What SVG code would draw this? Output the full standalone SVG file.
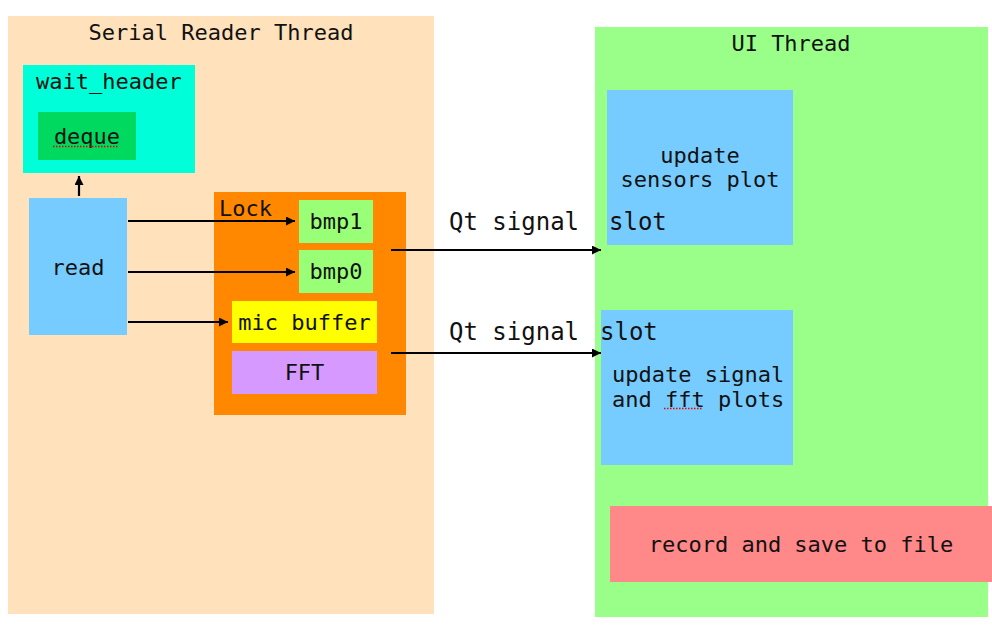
<svg xmlns="http://www.w3.org/2000/svg" width="992" height="634" viewBox="0 0 992 634">
<defs>
<style>
text{font-family:"DejaVu Sans Mono","Liberation Mono",monospace;font-size:22px;fill:#111}
.c{text-anchor:middle}
.b{font-size:24px}
.ln{stroke:#000;stroke-width:2.2;fill:none}
.sp{stroke:#e00;stroke-width:1.5;stroke-dasharray:1.5 1.5;fill:none}
</style>
<marker id="ah" viewBox="0 0 10 10" refX="10" refY="5" markerWidth="10" markerHeight="9" markerUnits="userSpaceOnUse" orient="auto">
<path d="M0,0 L10,5 L0,10 z" fill="#000"/>
</marker>
</defs>
<rect width="992" height="634" fill="#fff"/>
<g id="serial-reader-thread">
<rect x="8" y="16" width="426" height="598" fill="#FFE1BB"/>
<text class="c" x="221" y="40">Serial Reader Thread</text>
</g>
<g id="ui-thread">
<rect x="595" y="27" width="393" height="590" fill="#99FF88"/>
<text class="c" x="791" y="51">UI Thread</text>
</g>
<g id="wait_header">
<rect x="23" y="65" width="172" height="108" fill="#00FFD8"/>
<text x="36" y="89">wait_header</text>
</g>
<g id="deque">
<rect x="38" y="112" width="98" height="48" fill="#00D960"/>
<text class="c" x="87" y="144">deque</text>
<path class="sp" d="M53 146.5H119"/>
</g>
<g id="read">
<rect x="29" y="198" width="98" height="137" fill="#77CCFF"/>
<text class="c" x="78" y="275">read</text>
</g>
<g id="lock">
<rect x="214" y="192" width="192" height="223" fill="#FF8800"/>
<text x="219" y="216">Lock</text>
</g>
<g id="bmp1">
<rect x="299" y="200" width="74" height="43" fill="#99FF77"/>
<text class="c" x="336" y="229">bmp1</text>
</g>
<g id="bmp0">
<rect x="299" y="250" width="74" height="43" fill="#99FF77"/>
<text class="c" x="336" y="279">bmp0</text>
</g>
<g id="mic-buffer">
<rect x="232" y="301" width="145" height="42" fill="#FFFF00"/>
<text class="c" x="304.5" y="330">mic buffer</text>
</g>
<g id="fft">
<rect x="232" y="351" width="145" height="43" fill="#D699FF"/>
<text class="c" x="304.5" y="380">FFT</text>
</g>
<g id="update-sensors-plot">
<rect x="607" y="90" width="186" height="155" fill="#77CCFF"/>
<text class="c" x="700" y="163">update</text>
<text class="c" x="700" y="187">sensors plot</text>
<text class="b" x="609" y="230">slot</text>
</g>
<g id="update-signal-fft-plots">
<rect x="601" y="310" width="192" height="155" fill="#77CCFF"/>
<text class="b" x="600" y="340">slot</text>
<text x="612" y="382">update signal</text>
<text x="612" y="407">and fft plots</text>
<path class="sp" d="M664 408.5H702"/>
</g>
<g id="record-save">
<rect x="610" y="506" width="382" height="76" fill="#FF8888"/>
<text class="c" x="801" y="552">record and save to file</text>
</g>
<g id="connectors">
<path class="ln" d="M79 196V176" marker-end="url(#ah)"/>
<path class="ln" d="M128 221H295" marker-end="url(#ah)"/>
<path class="ln" d="M128 272H295" marker-end="url(#ah)"/>
<path class="ln" d="M128 322H228" marker-end="url(#ah)"/>
<path class="ln" d="M391 250H601" marker-end="url(#ah)"/>
<path class="ln" d="M391 353H601" marker-end="url(#ah)"/>
<text class="b" x="449" y="230">Qt signal</text>
<text class="b" x="449" y="340">Qt signal</text>
</g>
</svg>
